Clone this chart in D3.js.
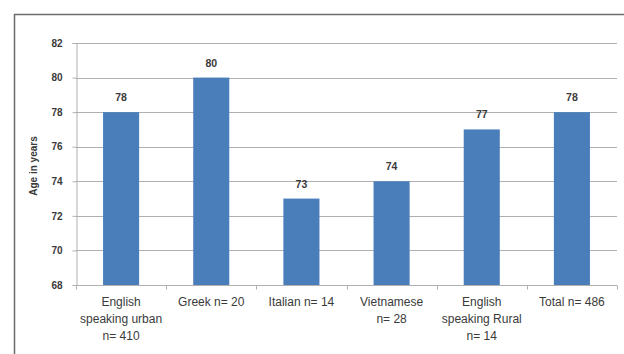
<!DOCTYPE html>
<html>
<head>
<meta charset="utf-8">
<script src="https://cdn.jsdelivr.net/npm/d3@7"></script>
<style>
  html, body { margin: 0; padding: 0; background: #fff; }
  svg { display: block; }
</style>
</head>
<body>
<svg id="chart" width="624" height="354"></svg>
<script>
// Mean age by language group
const categories = [
  ["English", "speaking urban", "n= 410"],
  ["Greek n= 20"],
  ["Italian n= 14"],
  ["Vietnamese", "n= 28"],
  ["English", "speaking Rural", "n= 14"],
  ["Total n= 486"]
];
const ages = [78, 80, 73, 74, 77, 78];
const yTicks = [68, 70, 72, 74, 76, 78, 80, 82];
const yTitle = "Age in years";

const svg = d3.select("#chart");
const W = 624, H = 354;
const margin = { left: 76, right: 7, top: 43, bottom: 70 };
const x0 = margin.left, x1 = W - margin.right;
const y0 = H - margin.bottom, y1 = margin.top;

// Outer chart frame (left and top edges visible, rest runs off the page)
svg.append("path")
  .attr("d", `M14.5,${H} L14.5,14.5 L${W},14.5`)
  .attr("fill", "none")
  .attr("stroke", "#6b6b6b")
  .attr("stroke-width", 1.5);

const x = d3.scaleBand()
  .domain(d3.range(categories.length))
  .range([x0, x1])
  .paddingInner(0.6)
  .paddingOuter(0.3);

const y = d3.scaleLinear().domain([68, 82]).range([y0 + 1, y1]);

// Horizontal gridlines
svg.append("g")
  .selectAll("line")
  .data(yTicks.filter(t => t > 68))
  .join("line")
  .attr("x1", x0).attr("x2", x1)
  .attr("y1", d => Math.round(y(d)) + 0.5)
  .attr("y2", d => Math.round(y(d)) + 0.5)
  .attr("stroke", "#b0b0b0")
  .attr("stroke-width", 1);

// Bars
svg.append("g")
  .selectAll("rect")
  .data(ages)
  .join("rect")
  .attr("x", (d, i) => x(i))
  .attr("width", x.bandwidth())
  .attr("y", d => y(d))
  .attr("height", d => y(68) - y(d))
  .attr("fill", "#4a7ebb");

// Value labels
svg.append("g")
  .selectAll("text")
  .data(ages)
  .join("text")
  .attr("x", (d, i) => x(i) + x.bandwidth() / 2)
  .attr("y", d => y(d) - 11)
  .attr("text-anchor", "middle")
  .attr("font-family", "Liberation Sans, Arial, sans-serif")
  .attr("font-size", 10.5)
  .attr("font-weight", "bold")
  .attr("fill", "#3a3a3a")
  .text(d => d);

// Y axis
const yAxis = d3.axisLeft(y).tickValues(yTicks).tickSize(4).tickPadding(10);
const gy = svg.append("g")
  .attr("transform", `translate(${x0 + 0.5},0)`)
  .call(yAxis);
gy.select(".domain").attr("stroke", "#b0b0b0");
gy.selectAll(".tick line").attr("stroke", "#b0b0b0");
gy.selectAll(".tick text")
  .attr("font-family", "Liberation Sans, Arial, sans-serif")
  .attr("font-size", 10)
  .attr("font-weight", "bold")
  .attr("fill", "#3a3a3a");

// X axis (ticks between categories)
const bandStep = (x1 - x0) / categories.length;
const gx = svg.append("g");
gx.append("line")
  .attr("x1", x0).attr("x2", x1)
  .attr("y1", Math.round(y(68)) + 0.5).attr("y2", Math.round(y(68)) + 0.5)
  .attr("stroke", "#b0b0b0");
gx.selectAll("line.tk")
  .data(d3.range(categories.length + 1))
  .join("line")
  .attr("class", "tk")
  .attr("x1", i => Math.round(x0 + i * bandStep) + 0.5)
  .attr("x2", i => Math.round(x0 + i * bandStep) + 0.5)
  .attr("y1", Math.round(y(68)) + 0.5)
  .attr("y2", Math.round(y(68)) + 4.5)
  .attr("stroke", "#b0b0b0");

// Category labels
const lab = svg.append("g")
  .selectAll("text")
  .data(categories)
  .join("text")
  .attr("text-anchor", "middle")
  .attr("font-family", "Liberation Sans, Arial, sans-serif")
  .attr("font-size", 12)
  .attr("fill", "#3a3a3a")
  .attr("transform", (d, i) => `translate(${x(i) + x.bandwidth() / 2},306)`);
lab.selectAll("tspan")
  .data(d => d)
  .join("tspan")
  .attr("x", 0)
  .attr("dy", (d, j) => j === 0 ? 0 : 17)
  .text(d => d);

// Y axis title
svg.append("text")
  .attr("transform", `translate(37,${(y(68) + y(82)) / 2 + 2}) rotate(-90)`)
  .attr("text-anchor", "middle")
  .attr("font-family", "Liberation Sans, Arial, sans-serif")
  .attr("font-size", 10)
  .attr("font-weight", "bold")
  .attr("fill", "#3a3a3a")
  .text(yTitle);
</script>
</body>
</html>
